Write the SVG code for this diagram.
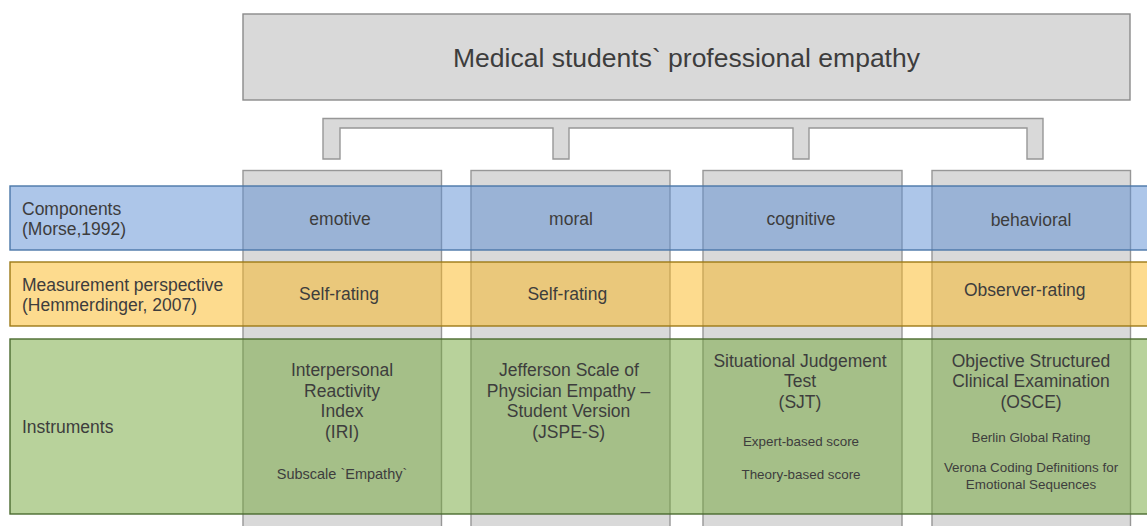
<svg xmlns="http://www.w3.org/2000/svg" width="1147" height="526" viewBox="0 0 1147 526">
<style>
text{font-family:"Liberation Sans",Arial,sans-serif;fill:#3d3d3d;font-size:17.5px}
.c{text-anchor:middle}
.s{font-size:13.4px}
.s2{font-size:14.5px}
.title{font-size:26.5px}
.gray{fill:#d9d9d9;stroke:#979797;stroke-width:1.4}
.blue{fill:#5b8dd3;fill-opacity:0.5;stroke:#4a77a8;stroke-width:1.4;stroke-opacity:1}
.yel{fill:#fcb81d;fill-opacity:0.5;stroke:#9c7a17;stroke-width:1.4}
.grn{fill:#71a537;fill-opacity:0.5;stroke:#4b6b30;stroke-width:1.4}
</style>
<rect width="1147" height="526" fill="#ffffff"/>
<g id="title">
<rect class="gray" x="243" y="14" width="887" height="86" style="stroke:#8a8a8a"/>
<text class="c title" x="686.5" y="67.3">Medical students` professional empathy</text>
</g>
<g id="connectors">
<path class="gray" d="M323,118.5 H1043 V159 H1027 V128 H809 V159 H793 V128 H569 V159 H553 V128 H340 V159 H323 Z"/>
</g>
<g id="columns">
<rect id="col-emotive" class="gray" x="243" y="170.5" width="198.5" height="370"/>
<rect id="col-moral" class="gray" x="471" y="170.5" width="199" height="370"/>
<rect id="col-cognitive" class="gray" x="703" y="170.5" width="199" height="370"/>
<rect id="col-behavioral" class="gray" x="932" y="170.5" width="198.5" height="370"/>
</g>
<g id="band-components">
<rect class="blue" x="10" y="186" width="1160" height="64"/>
<text x="22" y="215">Components</text>
<text x="22" y="235">(Morse,1992)</text>
</g>
<g id="band-measurement">
<rect class="yel" x="10" y="262" width="1160" height="64"/>
<text x="22" y="290.7">Measurement perspective</text>
<text x="22" y="310.7">(Hemmerdinger, 2007)</text>
</g>
<g id="band-instruments">
<rect class="grn" x="10" y="339" width="1160" height="175"/>
<text x="22" y="433.3">Instruments</text>
</g>
<g id="cell-emotive">
<text class="c" x="340" y="225">emotive</text>
<text class="c" x="339" y="300">Self-rating</text>
<text class="c" x="342" y="376">Interpersonal</text>
<text class="c" x="342" y="396.5">Reactivity</text>
<text class="c" x="342" y="417">Index</text>
<text class="c" x="342" y="437.5">(IRI)</text>
<text class="c s2" x="342" y="478.5">Subscale `Empathy`</text>
</g>
<g id="cell-moral">
<text class="c" x="571" y="225">moral</text>
<text class="c" x="567.3" y="300">Self-rating</text>
<text class="c" x="569" y="376">Jefferson Scale of</text>
<text class="c" x="568.5" y="396.5">Physician Empathy –</text>
<text class="c" x="568.5" y="417">Student Version</text>
<text class="c" x="568.7" y="437.5">(JSPE-S)</text>
</g>
<g id="cell-cognitive">
<text class="c" x="801" y="225">cognitive</text>
<text class="c" x="800" y="366.5">Situational Judgement</text>
<text class="c" x="800" y="387">Test</text>
<text class="c" x="800" y="407.5">(SJT)</text>
<text class="c s" x="801" y="445.5">Expert-based score</text>
<text class="c s" x="801" y="478.5">Theory-based score</text>
</g>
<g id="cell-behavioral">
<text class="c" x="1031" y="226">behavioral</text>
<text class="c" x="1024.8" y="295.5">Observer-rating</text>
<text class="c" x="1031" y="366.5">Objective Structured</text>
<text class="c" x="1031" y="387">Clinical Examination</text>
<text class="c" x="1031" y="407.5">(OSCE)</text>
<text class="c s" x="1031" y="441.5">Berlin Global Rating</text>
<text class="c s" x="1031" y="472">Verona Coding Definitions for</text>
<text class="c s" x="1031" y="488.5">Emotional Sequences</text>
</g>
</svg>
